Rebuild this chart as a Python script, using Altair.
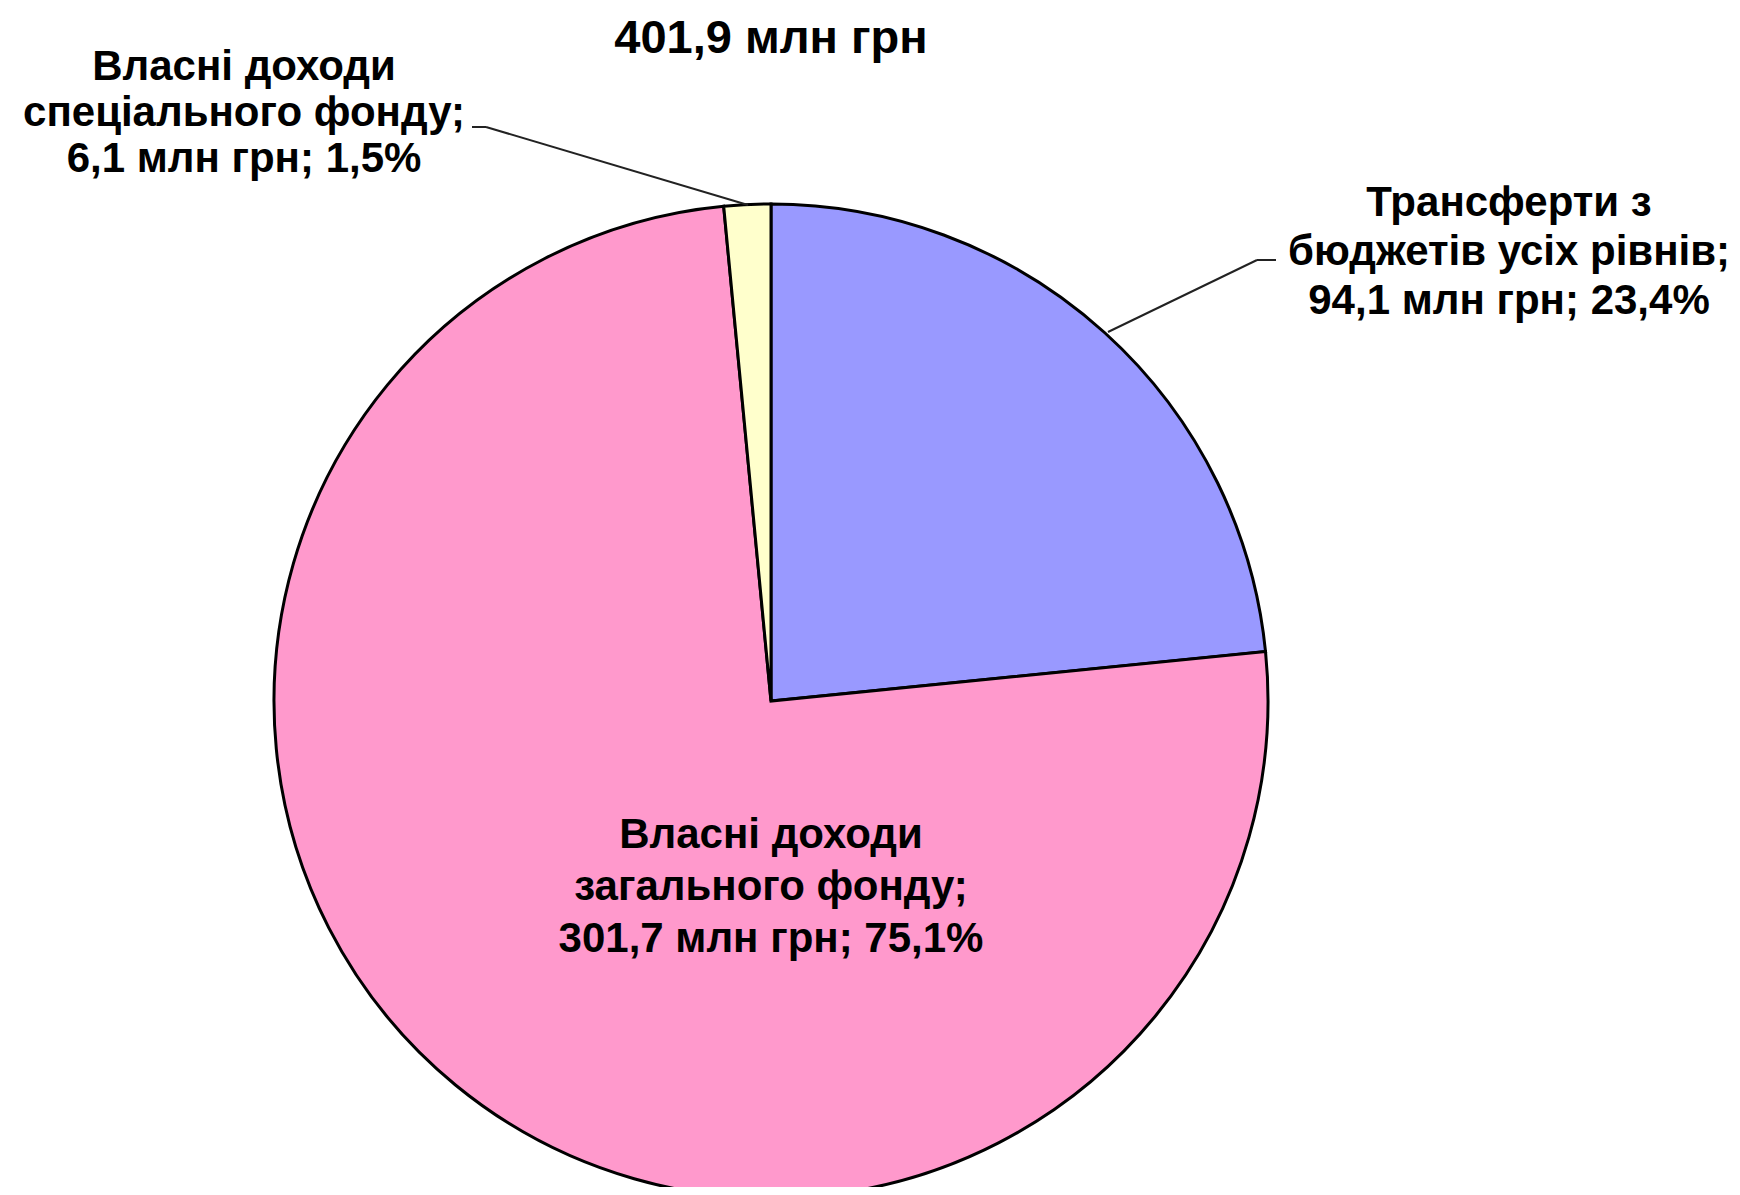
import altair as alt
import pandas as pd

# ---- data ----
categories = [
    "Трансферти з бюджетів усіх рівнів",
    "Власні доходи загального фонду",
    "Власні доходи спеціального фонду",
]
values = [94.1, 301.7, 6.1]          # млн грн
shares = ["23,4%", "75,1%", "1,5%"]
amounts = ["94,1 млн грн", "301,7 млн грн", "6,1 млн грн"]
label_heads = [
    "Трансферти з\nбюджетів усіх рівнів;",
    "Власні доходи\nзагального фонду;",
    "Власні доходи\nспеціального фонду;",
]
colors = ["#9999FF", "#FF99CC", "#FFFFCC"]
title_text = "401,9 млн грн"

W, H = 1724, 1179
CX, CY, R = 763, 693, 497
FONT = "Liberation Sans"
FS = 42

df = pd.DataFrame({
    "category": categories,
    "value": values,
    "order": list(range(len(categories))),
    "label": [f"{h}\n{a}; {s}" for h, a, s in zip(label_heads, amounts, shares)],
})

base = alt.Chart(df)

pie = base.mark_arc(radius=R, stroke="black", strokeWidth=3).encode(
    theta=alt.Theta("value:Q", stack=True),
    order=alt.Order("order:Q"),
    color=alt.Color("category:N", scale=alt.Scale(domain=categories, range=colors), legend=None),
    x=alt.value(CX),
    y=alt.value(CY),
)

def label(idx, x, y, lh=50):
    return alt.Chart(df.iloc[[idx]]).mark_text(
        font=FONT, fontSize=FS, fontWeight="bold", color="black",
        align="center", baseline="middle", lineBreak="\n", lineHeight=lh,
    ).encode(text="label:N", x=alt.value(x), y=alt.value(y))

lab_blue = label(0, 1501, 195, lh=49)
lab_pink = label(1, 763, 827, lh=52)
lab_yellow = label(2, 236, 59, lh=46)

title = alt.Chart(pd.DataFrame({"t": [title_text]})).mark_text(
    font=FONT, fontSize=47, fontWeight="bold",
    color="black", align="center", baseline="middle",
).encode(text="t:N", x=alt.value(763), y=alt.value(31))

def seg(x1, y1, x2, y2):
    return alt.Chart(pd.DataFrame({"k": [0]})).mark_rule(color="#222222", strokeWidth=2).encode(
        x=alt.value(x1), y=alt.value(y1), x2=alt.value(x2), y2=alt.value(y2)
    )

leaders = [
    seg(1100, 324, 1249, 252), seg(1249, 252, 1268, 252),
    seg(740, 197, 478, 119), seg(478, 119, 464, 119),
]

chart = alt.layer(pie, *leaders, lab_blue, lab_pink, lab_yellow, title).properties(
    width=W, height=H, padding=0, autosize=alt.AutoSizeParams(type="none"),
    background="white",
).configure_view(stroke=None)

chart.save("out.html", embed_options={"renderer": "svg", "actions": False})
